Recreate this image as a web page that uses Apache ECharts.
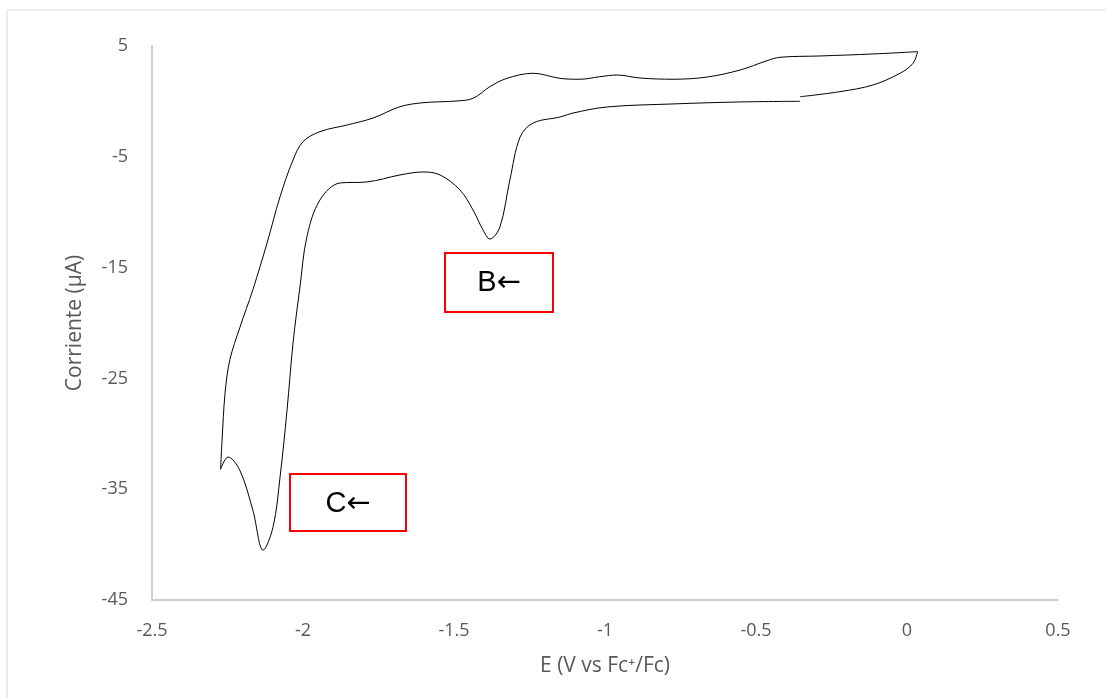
<!DOCTYPE html>
<html>
<head>
<meta charset="utf-8">
<script src="https://cdn.jsdelivr.net/npm/echarts@6/dist/echarts.min.js"></script>
<style>
  html, body { margin: 0; padding: 0; background: #fff; }
  #chart { width: 1106px; height: 698px; }
</style>
</head>
<body>
<div id="chart"></div>
<script>
// potencial (V vs Fc+/Fc), en el orden del barrido
var potencial = [-0.354, -0.222, -0.113, -0.023, 0.020, 0.035,
  -0.113, -0.288, -0.421, -0.464, -0.553, -0.662, -0.775, -0.884, -0.960, -1.017, -1.083, -1.149,
  -1.238, -1.325, -1.381, -1.437, -1.490, -1.603, -1.679, -1.768, -1.854, -1.944, -2.000, -2.033,
  -2.076, -2.119, -2.166, -2.209, -2.242, -2.258, -2.268, -2.273,
  -2.248, -2.209, -2.166, -2.132, -2.099, -2.076, -2.053, -2.033, -2.010, -1.987, -1.944, -1.877,
  -1.788, -1.679, -1.603, -1.546, -1.480, -1.437, -1.404, -1.381, -1.348, -1.315, -1.281, -1.238,
  -1.149, -1.106, -0.993, -0.775, -0.553, -0.354];
// corriente (uA)
var corriente = [0.42, 0.88, 1.48, 2.54, 3.44, 4.49,
  4.28, 4.10, 3.98, 3.67, 2.83, 2.20, 2.00, 2.11, 2.38, 2.23, 2.00, 2.08,
  2.54, 2.08, 1.33, 0.28, 0.04, -0.12, -0.48, -1.50, -2.13, -2.73, -3.64, -5.29,
  -8.6, -12.78, -17.0, -20.4, -23.3, -26.3, -30.6, -33.2,
  -32.1, -33.3, -36.9, -40.5, -38.4, -33.9, -27.9, -21.8, -16.75, -12.2, -8.9, -7.36,
  -7.27, -6.64, -6.37, -6.64, -8.0, -9.8, -11.6, -12.42, -11.34, -7.09, -3.21, -1.95,
  -1.41, -1.05, -0.5, -0.23, -0.05, 0.01];

var xTicks = { min: -2.5, max: 0.5, step: 0.5 };
var yTicks = { min: -45, max: 5, step: 10 };

var puntos = [];
for (var i = 0; i < potencial.length; i++) {
  puntos.push([potencial[i], corriente[i]]);
}

var myChart = echarts.init(document.getElementById('chart'));

var etiqueta = {
  fontSize: 29, fontFamily: 'Liberation Sans', fill: '#000', align: 'center', verticalAlign: 'middle',
  rich: {
    f: { fontSize: 29, fontFamily: 'DejaVu Sans', fill: '#000' }
  }
};

var option = {
  backgroundColor: '#fff',
  animation: false,
  grid: { left: 152, right: 48, top: 46, bottom: 98 },
  xAxis: {
    type: 'value',
    min: xTicks.min,
    max: xTicks.max,
    interval: xTicks.step,
    name: 'E (V vs Fc\u207a/Fc)',
    nameLocation: 'middle',
    nameGap: 56,
    nameTextStyle: { color: '#595959', fontSize: 21, fontFamily: 'Open Sans' },
    axisLine: { onZero: false, lineStyle: { color: '#bfbfbf', width: 1.5 } },
    axisTick: { show: false },
    splitLine: { show: false },
    axisLabel: { color: '#595959', fontSize: 18, fontFamily: 'Open Sans', margin: 22 }
  },
  yAxis: {
    type: 'value',
    min: yTicks.min,
    max: yTicks.max,
    interval: yTicks.step,
    name: 'Corriente (\u00b5A)',
    nameLocation: 'middle',
    nameGap: 66,
    nameRotate: 90,
    nameTextStyle: { color: '#595959', fontSize: 21, fontFamily: 'Open Sans' },
    axisLine: { show: true, onZero: false, lineStyle: { color: '#bfbfbf', width: 1.5 } },
    axisTick: { show: false },
    splitLine: { show: false },
    axisLabel: { color: '#595959', fontSize: 18, fontFamily: 'Open Sans', margin: 24 }
  },
  series: [
    {
      type: 'line',
      data: puntos,
      smooth: 0.35,
      showSymbol: false,
      lineStyle: { color: '#000', width: 1 }
    }
  ],
  graphic: [
    {
      type: 'rect',
      shape: { x: 7, y: 10, width: 1110, height: 700 },
      style: { fill: 'none', stroke: '#d9d9d9', lineWidth: 1 },
      silent: true
    },
    {
      type: 'rect',
      shape: { x: 445, y: 253, width: 108, height: 59 },
      style: { fill: '#fff', stroke: '#ff0000', lineWidth: 2 }
    },
    {
      type: 'text',
      x: 499, y: 283,
      style: Object.assign({}, etiqueta, { text: 'B{f|\u2190}' })
    },
    {
      type: 'rect',
      shape: { x: 290, y: 474, width: 116, height: 57 },
      style: { fill: '#fff', stroke: '#ff0000', lineWidth: 2 }
    },
    {
      type: 'text',
      x: 348, y: 504,
      style: Object.assign({}, etiqueta, { text: 'C{f|\u2190}' })
    }
  ]
};

option && myChart.setOption(option);
</script>
</body>
</html>
